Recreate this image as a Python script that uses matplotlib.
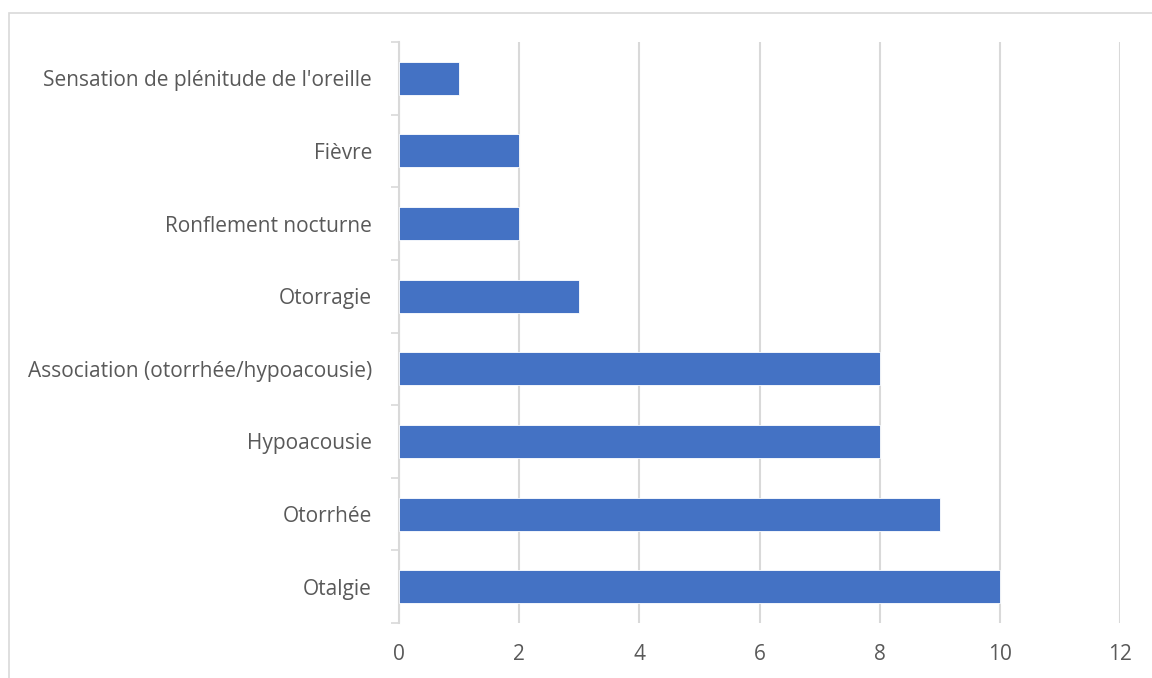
import matplotlib
matplotlib.use("Agg")
import matplotlib.pyplot as plt
from matplotlib.patches import Rectangle
from matplotlib.ticker import FixedLocator

# Symptoms, listed from top to bottom as they appear
symptoms = [
    "Sensation de plénitude de l'oreille",
    "Fièvre",
    "Ronflement nocturne",
    "Otorragie",
    "Association (otorrhée/hypoacousie)",
    "Hypoacousie",
    "Otorrhée",
    "Otalgie",
]
counts = [1, 2, 2, 3, 8, 8, 9, 10]
x_ticks = [0, 2, 4, 6, 8, 10, 12]

BAR = "#4472C4"
GRID = "#D9D9D9"
TEXT = "#595959"

plt.rcParams["font.family"] = ["Open Sans", "DejaVu Sans"]

W, H = 1152, 678
fig = plt.figure(figsize=(W / 100, H / 100), dpi=100)
ax = fig.add_axes([399 / W, (H - 623) / H, (1120 - 399) / W, (623 - 42) / H])

n = len(symptoms)
ypos = list(range(n))[::-1]  # first symptom at the top
ax.barh(ypos, counts, height=0.455, color=BAR, edgecolor="white",
        linewidth=0.6, zorder=3)

ax.set_xlim(0, 12)
ax.set_ylim(-0.5, n - 0.5)

ax.set_xticks(x_ticks)
ax.set_xticklabels([str(t) for t in x_ticks])
ax.xaxis.grid(True, color=GRID, linewidth=1.5, zorder=0)
ax.set_axisbelow(True)

ax.set_yticks(ypos)
ax.set_yticklabels(symptoms)
ax.yaxis.set_minor_locator(FixedLocator([i - 0.5 for i in range(n + 1)]))

ax.tick_params(axis="y", which="major", length=0, pad=19.5, labelsize=15,
               labelcolor=TEXT)
ax.tick_params(axis="y", which="minor", length=5.5, width=1.2, color=GRID,
               direction="out")
ax.tick_params(axis="x", which="major", length=0, pad=15, labelsize=15,
               labelcolor=TEXT)

for side in ("top", "right", "bottom"):
    ax.spines[side].set_visible(False)
ax.spines["left"].set_color(GRID)
ax.spines["left"].set_linewidth(1.5)

# chart-area frame
fig.patches.append(Rectangle((9 / W, -0.01), 1.02, (H - 13) / H + 0.01,
                             transform=fig.transFigure, fill=False,
                             edgecolor=GRID, linewidth=1.2))

fig.savefig("out.png", dpi=100, facecolor="white")
